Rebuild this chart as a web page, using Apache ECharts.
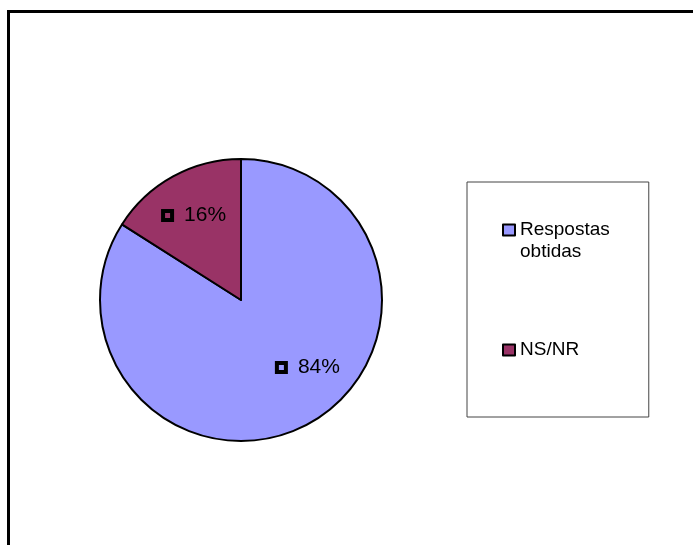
<!DOCTYPE html>
<html>
<head>
<meta charset="utf-8">
<script src="https://cdn.jsdelivr.net/npm/echarts@6/dist/echarts.min.js"></script>
<style>
  html, body { margin: 0; padding: 0; background: #fff; }
  #chart { width: 693px; height: 545px; }
</style>
</head>
<body>
<div id="chart"></div>
<script>
// Survey response breakdown
const categories = ['Respostas obtidas', 'NS/NR'];
const values = [84, 16];
// legend wording; the leading blank line keeps the first text line level with the key
const legendLabels = ['\nRespostas\nobtidas', 'NS/NR'];
const sliceColors = ['#9999FF', '#993366'];

const FONT = '"Liberation Sans", Arial, sans-serif';

// per-slice label nudges (label sits off the mid-radius, as in the original sheet)
const labelOffsets = [[32, 3], [-11, -20]];

const chart = echarts.init(document.getElementById('chart'), null, { renderer: 'canvas' });

const pieData = categories.map((name, i) => ({
  name: name,
  value: values[i],
  itemStyle: { color: sliceColors[i] },
  label: { offset: labelOffsets[i] }
}));

chart.setOption({
  animation: false,
  backgroundColor: '#ffffff',
  graphic: [{
    type: 'rect',
    shape: { x: 8.5, y: 11.5, width: 720, height: 600 },
    style: { fill: 'none', stroke: '#000', lineWidth: 3 },
    silent: true,
    z: -1
  }],
  legend: {
    orient: 'vertical',
    left: 467,
    top: 182,
    padding: [15, 39, 56, 35],
    borderColor: '#444',
    borderWidth: 1,
    itemWidth: 12,
    itemHeight: 11,
    itemGap: 76,
    icon: 'rect',
    itemStyle: { borderColor: '#000', borderWidth: 2 },
    formatter: function (name) { return legendLabels[categories.indexOf(name)]; },
    textStyle: { fontFamily: FONT, fontSize: 19, color: '#000', lineHeight: 22 },
    data: categories
  },
  series: [{
    type: 'pie',
    center: [241, 300],
    radius: 141,
    startAngle: 90,
    clockwise: true,
    avoidLabelOverlap: false,
    itemStyle: { borderColor: '#000', borderWidth: 2 },
    emphasis: { disabled: true },
    labelLine: { show: false },
    label: {
      show: true,
      position: 'inside',
      formatter: function (p) { return '{box|}{t|' + p.value + '%}'; },
      rich: {
        box: { width: 9, height: 9, borderColor: '#000', borderWidth: 2, backgroundColor: 'transparent' },
        t: { fontFamily: FONT, fontSize: 21, color: '#000', padding: [0, 0, 0, 12] }
      }
    },
    data: pieData
  }]
});
</script>
</body>
</html>
